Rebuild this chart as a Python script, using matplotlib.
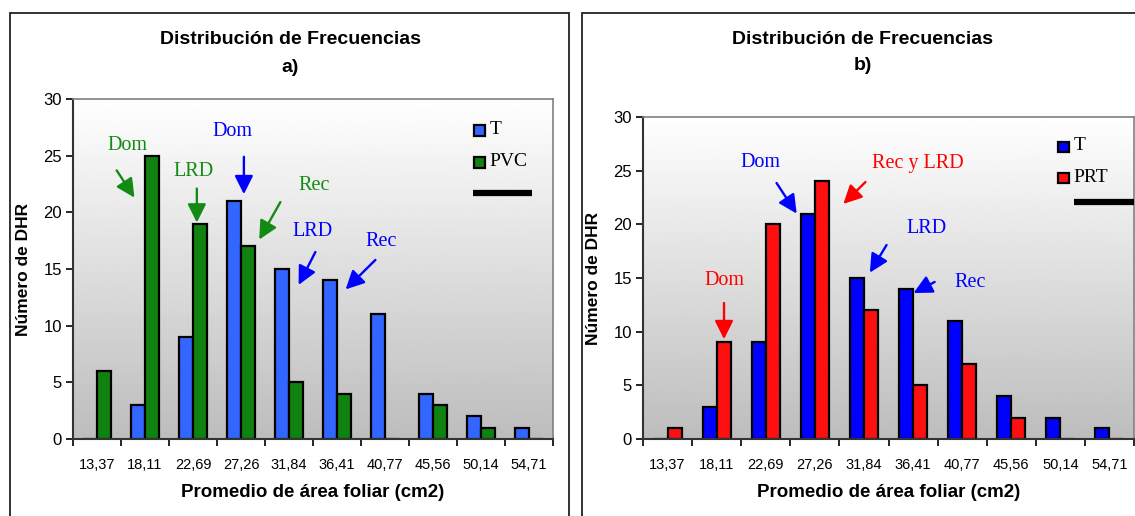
import numpy as np
import matplotlib.pyplot as plt
from matplotlib.patches import Rectangle

categorias = ['13,37', '18,11', '22,69', '27,26', '31,84', '36,41', '40,77', '45,56', '50,14', '54,71']
t_a = [0, 3, 9, 21, 15, 14, 11, 4, 2, 1]
pvc = [6, 25, 19, 17, 5, 4, 0, 3, 1, 0]
t_b = [0, 3, 9, 21, 15, 14, 11, 4, 2, 1]
prt = [1, 9, 20, 24, 12, 5, 7, 2, 0, 0]

# notas: (texto, color, pos texto, inicio flecha, fin flecha) en coordenadas de datos
notas_a = [
    ('Dom', '#138a13', (1.14, 25.9), (0.91, 23.7), (1.28, 21.3)),
    ('LRD', '#138a13', (2.51, 23.6), (2.58, 22.1), (2.58, 19.1)),
    ('Dom', '#0000ff', (3.33, 27.1), (3.56, 24.9), (3.56, 21.6)),
    ('Rec', '#138a13', (5.02, 22.4), (4.32, 20.9), (3.88, 17.6)),
    ('LRD', '#0000ff', (4.98, 18.3), (5.05, 16.5), (4.70, 13.6)),
    ('Rec', '#0000ff', (6.42, 17.4), (6.30, 15.8), (5.68, 13.2)),
]
notas_b = [
    ('Dom', '#0000ff', (2.39, 25.8), (2.72, 23.85), (3.13, 21.0)),
    ('Rec y LRD', '#ff0000', (5.60, 25.7), (4.53, 23.94), (4.08, 21.9)),
    ('LRD', '#0000ff', (5.78, 19.6), (4.96, 18.07), (4.62, 15.5)),
    ('Rec', '#0000ff', (6.67, 14.6), (5.94, 14.63), (5.51, 13.6)),
    ('Dom', '#ff0000', (1.65, 14.8), (1.65, 12.67), (1.65, 9.3)),
]

W, H = 1135, 516
fig = plt.figure(figsize=(W / 100, H / 100), dpi=100)
plt.rcParams['font.family'] = 'Liberation Sans'


def px_ax(l, t, r, b):
    return fig.add_axes([l / W, (H - b) / H, (r - l) / W, (b - t) / H])


def panel(ax, s1, s2, c1, c2, n1, n2, notas, leg_x, leg_y, linea):
    w = 0.2857
    x = np.arange(len(categorias)) + 0.5
    grad = np.linspace(1.0, 0.74, 256).reshape(-1, 1)
    ax.imshow(grad, cmap='gray', vmin=0, vmax=1, aspect='auto',
              extent=[0, 10, 0, 30], origin='upper', zorder=0)
    ax.bar(x - w / 2, s1, w, color=c1, edgecolor='black', linewidth=1.6, zorder=2)
    ax.bar(x + w / 2, s2, w, color=c2, edgecolor='black', linewidth=1.6, zorder=2)
    ax.set_xlim(0, 10)
    ax.set_ylim(0, 30)
    ax.set_yticks([0, 5, 10, 15, 20, 25, 30])
    ax.set_xticks(np.arange(11))
    ax.set_xticklabels([])
    ax.set_xticks(x, minor=True)
    ax.set_xticklabels(categorias, minor=True, fontsize=10.5)
    ax.tick_params(axis='x', which='minor', length=0, pad=14)
    ax.tick_params(axis='x', which='major', length=5, width=1.2, direction='out')
    ax.tick_params(axis='y', length=5, width=1.2, labelsize=12, pad=3)
    for s in ['top', 'right']:
        ax.spines[s].set_color('#808080')
        ax.spines[s].set_linewidth(1.2)
    for s in ['left', 'bottom']:
        ax.spines[s].set_color('#333333')
        ax.spines[s].set_linewidth(1.5)
    ax.set_xlabel('Promedio de área foliar (cm2)', fontsize=13.5, fontweight='bold', labelpad=8)
    ax.set_ylabel('Número de DHR', fontsize=12.5, fontweight='bold', labelpad=9)
    for txt, col, pt, p0, p1 in notas:
        ax.text(pt[0], pt[1], txt, color=col, fontsize=14.5, family='Liberation Serif',
                ha='center', va='center', zorder=4)
        ax.annotate('', xy=p1, xytext=p0, zorder=4,
                    arrowprops=dict(arrowstyle='-|>', color=col, lw=1.7, mutation_scale=28,
                                    shrinkA=0, shrinkB=0))
    # leyenda manual
    for yy, c, n in [(leg_y[0], c1, n1), (leg_y[1], c2, n2)]:
        ax.add_patch(Rectangle((leg_x, yy - 0.48), 0.23, 0.96, facecolor=c, edgecolor='black',
                               linewidth=1.6, zorder=5))
        ax.text(leg_x + 0.32, yy + 0.1, n, fontsize=14, family='Liberation Serif',
                va='center', zorder=5)
    ax.plot(linea[0], [linea[1]] * 2, color='black', lw=4.5, zorder=5,
            solid_capstyle='butt', clip_on=False)


ax1 = px_ax(73, 99, 553, 439)
panel(ax1, t_a, pvc, '#3366ff', '#108210', 'T', 'PVC', notas_a,
      8.36, (27.2, 24.4), ((8.34, 9.56), 21.7))
fig.text(290 / W, 1 - 40 / H, 'Distribución de Frecuencias', fontsize=14, fontweight='bold',
         ha='center', va='center')
fig.text(290 / W, 1 - 67 / H, 'a)', fontsize=14, fontweight='bold', ha='center', va='center')

ax2 = px_ax(643, 117, 1134, 439)
panel(ax2, t_b, prt, '#0000ff', '#ff1010', 'T', 'PRT', notas_b,
      8.45, (27.2, 24.3), ((8.77, 9.99), 22.1))
fig.text(863 / W, 1 - 40 / H, 'Distribución de Frecuencias', fontsize=14, fontweight='bold',
         ha='center', va='center')
fig.text(863 / W, 1 - 66 / H, 'b)', fontsize=14, fontweight='bold', ha='center', va='center')

# marcos externos
fig.patches.append(Rectangle((10 / W, -0.01), 559 / W, (H - 13) / H + 0.01, transform=fig.transFigure,
                             fill=False, edgecolor='#222222', linewidth=1.3))
fig.patches.append(Rectangle((582 / W, -0.01), 600 / W, (H - 13) / H + 0.01, transform=fig.transFigure,
                             fill=False, edgecolor='#222222', linewidth=1.3))

fig.savefig('out.png', dpi=100)
